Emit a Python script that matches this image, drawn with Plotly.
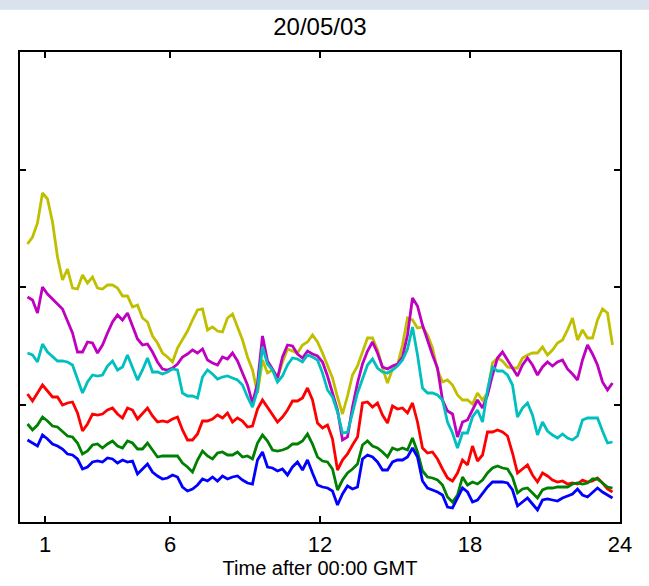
import numpy as np
import plotly.graph_objects as go

# time axis (hours after 00:00 GMT), one sample every 0.2 h
times = np.round(np.arange(0.3, 23.71, 0.2), 2)

yellow_vals = [
    278, 285, 299, 329, 323, 300, 265, 242, 253, 234,
    233, 247, 239, 245, 234, 233, 237, 237, 234, 226,
    226, 215, 217, 204, 200, 186, 179, 169, 165, 160,
    174, 183, 191, 202, 212, 213, 192, 195, 191, 190,
    204, 208, 195, 182, 165, 152, 129, 162, 149, 152,
    144, 160, 173, 171, 169, 177, 180, 187, 180, 169,
    157, 144, 125, 108, 126, 147, 156, 170, 184, 184,
    172, 154, 139, 153, 157, 177, 204, 202, 194, 195,
    187, 174, 152, 140, 142, 137, 127, 122, 122, 118,
    129, 122, 129, 159, 164, 161, 155, 154, 154, 164,
    167, 169, 169, 175, 167, 172, 179, 182, 192, 204,
    182, 192, 184, 184, 202, 213, 209, 177,
]
magenta_vals = [
    225, 222, 209, 235, 228, 223, 217, 213, 201, 189,
    170, 170, 180, 179, 169, 177, 189, 200, 207, 202,
    209, 196, 183, 177, 178, 170, 160, 153, 152, 154,
    158, 165, 168, 172, 169, 173, 162, 159, 157, 165,
    163, 169, 161, 149, 137, 119, 139, 186, 161, 153,
    144, 165, 177, 176, 168, 164, 171, 168, 166, 160,
    146, 129, 112, 82, 85, 115, 139, 158, 171, 180,
    169, 155, 153, 156, 158, 165, 187, 224, 216, 197,
    181, 167, 154, 122, 111, 108, 85, 100, 102, 112,
    122, 114, 127, 147, 164, 170, 162, 154, 146, 157,
    164, 157, 147, 155, 160, 156, 160, 162, 153, 148,
    142, 162, 177, 168, 157, 140, 132, 139,
]
cyan_vals = [
    169, 167, 160, 178, 170, 165, 161, 161, 160, 157,
    142, 129, 140, 147, 146, 147, 156, 161, 152, 155,
    167, 155, 142, 152, 164, 150, 150, 148, 150, 153,
    152, 129, 126, 126, 124, 145, 152, 148, 143, 145,
    146, 144, 142, 137, 125, 115, 132, 175, 158, 152,
    140, 146, 157, 164, 163, 160, 167, 165, 162, 149,
    132, 125, 110, 89, 90, 109, 129, 143, 157, 163,
    154, 150, 149, 152, 156, 162, 173, 195, 167, 134,
    129, 129, 127, 122, 100, 89, 74, 89, 89, 105,
    112, 100, 132, 155, 151, 151, 147, 137, 105, 114,
    119, 107, 87, 100, 91, 87, 84, 88, 84, 82,
    86, 102, 104, 104, 104, 91, 79, 80,
]
red_vals = [
    128, 121, 129, 137, 131, 125, 125, 117, 119, 120,
    109, 91, 98, 108, 107, 108, 112, 114, 108, 104,
    114, 112, 103, 109, 114, 106, 100, 101, 100, 103,
    105, 92, 82, 82, 88, 101, 101, 103, 107, 104,
    109, 100, 104, 101, 95, 96, 113, 122, 115, 107,
    100, 105, 112, 121, 121, 124, 134, 122, 99, 94,
    97, 83, 52, 62, 68, 77, 85, 119, 120, 115,
    119, 107, 99, 116, 113, 114, 109, 119, 100, 74,
    69, 70, 63, 53, 44, 41, 49, 62, 57, 76,
    61, 67, 90, 90, 92, 90, 86, 69, 49, 53,
    57, 47, 40, 49, 46, 42, 40, 41, 38, 39,
    38, 42, 40, 41, 44, 39, 33, 30,
]
green_vals = [
    98, 92, 97, 105, 101, 96, 95, 90, 86, 85,
    79, 68, 71, 77, 78, 74, 78, 81, 76, 74,
    81, 79, 73, 73, 79, 72, 65, 66, 66, 66,
    66, 59, 55, 50, 62, 71, 66, 63, 69, 70,
    67, 67, 70, 65, 66, 63, 79, 87, 81, 72,
    71, 72, 74, 78, 78, 81, 88, 78, 65, 61,
    60, 53, 32, 42, 49, 53, 58, 77, 81, 76,
    74, 70, 65, 74, 72, 74, 72, 84, 70, 51,
    45, 44, 42, 37, 25, 20, 27, 45, 37, 40,
    38, 42, 49, 54, 56, 54, 53, 45, 29, 33,
    34, 29, 24, 32, 34, 34, 35, 35, 35, 38,
    39, 38, 39, 43, 43, 39, 35, 34,
]
blue_vals = [
    82, 79, 76, 87, 83, 78, 76, 73, 68, 67,
    63, 53, 55, 60, 61, 60, 64, 63, 59, 62,
    60, 61, 48, 53, 58, 50, 46, 43, 44, 47,
    45, 35, 31, 33, 37, 43, 41, 45, 41, 46,
    43, 45, 46, 42, 39, 38, 62, 70, 55, 54,
    51, 53, 47, 55, 60, 52, 62, 49, 37, 35,
    34, 31, 17, 28, 36, 33, 35, 63, 67, 65,
    60, 52, 52, 60, 62, 62, 65, 74, 65, 41,
    34, 32, 30, 27, 15, 14, 24, 34, 30, 20,
    22, 29, 35, 40, 40, 40, 39, 32, 16, 20,
    24, 18, 12, 22, 23, 22, 21, 24, 26, 28,
    33, 27, 25, 30, 34, 30, 27, 24,
]

x_ticks = [1, 6, 12, 18, 24]
x_tick_labels = ["1", "6", "12", "18", "24"]
y_ticks = [117.5, 235, 352.5]

series = [
    ("yellow", yellow_vals, "#BFBF00"),
    ("magenta", magenta_vals, "#BF00BF"),
    ("cyan", cyan_vals, "#00BFBF"),
    ("red", red_vals, "#FF0000"),
    ("green", green_vals, "#008000"),
    ("blue", blue_vals, "#0000FF"),
]

fig = go.Figure()
for name, vals, col in series:
    fig.add_trace(go.Scatter(
        x=times[:len(vals)], y=vals, mode="lines", name=name,
        line=dict(color=col, width=2.8), showlegend=False,
    ))

axis_common = dict(
    showline=True, linecolor="black", linewidth=2, mirror="ticks",
    ticks="inside", ticklen=6, tickwidth=2, tickcolor="black",
    showgrid=False, zeroline=False,
)
fig.update_xaxes(
    range=[0, 24], tickvals=x_ticks, ticktext=x_tick_labels,
    tickfont=dict(size=22, color="black", family="Liberation Sans, Arial"),
    ticklabelstandoff=2,
    title=dict(text="Time after 00:00 GMT", standoff=0,
               font=dict(size=20, color="black", family="Liberation Sans, Arial")),
    **axis_common,
)
fig.update_yaxes(
    range=[0, 470], tickvals=y_ticks, showticklabels=False,
    **axis_common,
)

# light slide-background band at the top of the picture
fig.add_shape(type="rect", xref="paper", yref="paper",
              x0=-0.05, x1=1.06, y0=1.09, y1=1.12,
              fillcolor="#d9e2ed", line=dict(width=0), layer="below")

fig.update_layout(
    width=649, height=586,
    margin=dict(l=20, r=29, t=52, b=64),
    paper_bgcolor="white", plot_bgcolor="white",
    title=dict(text="20/05/03", x=0.493, xanchor="center",
               y=1 - 27 / 586, yanchor="middle",
               font=dict(size=24, color="black", family="Liberation Sans, Arial")),
)

fig.write_html("out.html", config={"displayModeBar": False},
               post_script="document.body.style.margin='0';")
